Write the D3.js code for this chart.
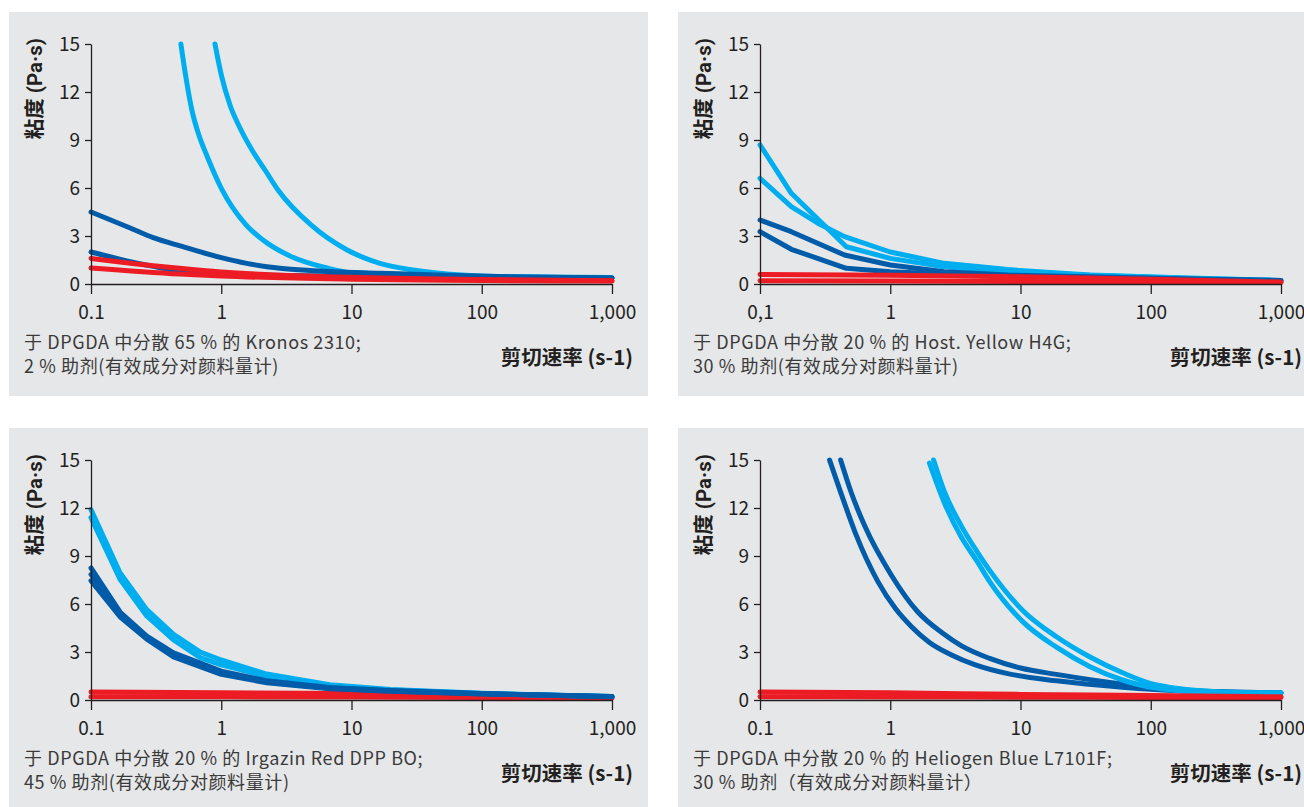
<!DOCTYPE html>
<html>
<head>
<meta charset="utf-8">
<script src="https://cdn.jsdelivr.net/npm/d3@7"></script>
<style>
  body { margin: 0; background: #fff; }
  text { font-family: "Noto Sans CJK SC", "Noto Sans", sans-serif; fill: #231f20; }
</style>
</head>
<body>
<svg id="chart" width="1304" height="807"></svg>
<script>
// axis ticks
const yTicks = [0, 3, 6, 9, 12, 15];
const xTicks = [0.1, 1, 10, 100, 1000];
const xLabelsDot = ['0.1', '1', '10', '100', '1,000'];
const xLabelsComma = ['0,1', '1', '10', '100', '1,000'];

// [shear rate (1/s), viscosity (Pa·s)]
// Kronos 2310
const kronosLight1 = [[0.49, 15], [0.536, 12.9], [0.594, 10.9], [0.674, 9.3], [0.773, 8.05], [1.013, 5.9], [1.549, 3.7], [2.092, 2.75], [3.37, 1.75], [6.49, 1.0], [9.7, 0.72], [20, 0.62], [100, 0.45], [1000, 0.38]];
const kronosLight2 = [[0.895, 15], [1.008, 12.96], [1.167, 11.19], [1.393, 9.75], [1.722, 8.375], [2.167, 7.125], [2.728, 5.875], [4.888, 3.69], [9.19, 2.14], [16.55, 1.29], [29.6, 0.875], [54, 0.625], [97, 0.5], [165, 0.46], [1000, 0.4]];
const kronosDark1 = [[0.1, 4.5], [0.2, 3.5], [0.3, 2.9], [0.5, 2.35], [1, 1.65], [1.57, 1.29], [2.82, 0.98], [5.1, 0.83], [16.6, 0.67], [54, 0.54], [165, 0.46], [1000, 0.38]];
const kronosDark2 = [[0.1, 2.0], [0.2, 1.4], [0.5, 0.8], [1, 0.62], [10, 0.48], [100, 0.42], [1000, 0.38]];
const kronosRed1 = [[0.1, 1.6], [0.2, 1.3], [0.48, 0.98], [1, 0.75], [10, 0.42], [100, 0.28], [1000, 0.2]];
const kronosRed2 = [[0.1, 1.0], [0.48, 0.62], [1, 0.5], [10, 0.3], [100, 0.22], [1000, 0.18]];

// Host. Yellow H4G
const yellowLight1 = [[0.1, 8.7], [0.174, 5.67], [0.46, 2.33], [1, 1.6], [2.6, 1.08], [8, 0.77], [34, 0.55], [200, 0.35], [1000, 0.22]];
const yellowLight2 = [[0.1, 6.6], [0.174, 4.83], [0.278, 3.8], [0.446, 2.96], [1, 2.0], [2.6, 1.29], [8, 0.9], [34, 0.56], [200, 0.37], [1000, 0.22]];
const yellowDark1 = [[0.1, 4.0], [0.174, 3.27], [0.446, 1.81], [1, 1.19], [2.6, 0.77], [8, 0.56], [34, 0.45], [200, 0.32], [1000, 0.22]];
const yellowDark2 = [[0.1, 3.27], [0.174, 2.17], [0.46, 0.98], [1, 0.77], [8, 0.46], [34, 0.4], [200, 0.3], [1000, 0.2]];
const yellowRed1 = [[0.1, 0.6], [1, 0.55], [10, 0.45], [100, 0.3], [1000, 0.12]];
const yellowRed2 = [[0.1, 0.2], [1, 0.18], [10, 0.15], [100, 0.12], [1000, 0.1]];

// Irgazin Red DPP BO
const redLight1 = [[0.1, 11.9], [0.167, 7.95], [0.268, 5.65], [0.43, 4.1], [0.69, 3.0], [1, 2.5], [2.23, 1.62], [6.8, 0.96], [20, 0.65], [100, 0.42], [1000, 0.22]];
const redLight2 = [[0.1, 11.4], [0.167, 7.55], [0.268, 5.25], [0.43, 3.75], [0.69, 2.65], [1, 2.2], [2.23, 1.48], [6.8, 0.9], [20, 0.62], [100, 0.4], [1000, 0.22]];
const redDark1 = [[0.1, 8.25], [0.167, 5.5], [0.268, 4.0], [0.43, 2.95], [1, 1.8], [2.23, 1.2], [6.8, 0.78], [20, 0.6], [100, 0.4], [1000, 0.22]];
const redDark2 = [[0.1, 7.85], [0.167, 5.35], [0.268, 3.9], [0.43, 2.82], [1, 1.7], [2.23, 1.14], [6.8, 0.74], [20, 0.57], [100, 0.39], [1000, 0.21]];
const redDark3 = [[0.1, 7.45], [0.167, 5.2], [0.268, 3.8], [0.43, 2.7], [1, 1.6], [2.23, 1.08], [6.8, 0.7], [20, 0.55], [100, 0.38], [1000, 0.2]];
const redRed1 = [[0.1, 0.5], [1, 0.45], [10, 0.4], [100, 0.3], [1000, 0.15]];
const redRed2 = [[0.1, 0.2], [1, 0.2], [10, 0.18], [100, 0.15], [1000, 0.12]];

// Heliogen Blue L7101F
const blueDark1 = [[0.342, 15], [0.45, 12.2], [0.548, 10.3], [0.804, 7.4], [1.1, 5.7], [1.45, 4.6], [2.0, 3.6], [2.9, 2.85], [4.5, 2.2], [8, 1.65], [18.9, 1.2], [60.8, 0.8], [200, 0.55], [1000, 0.42]];
const blueDark2 = [[0.416, 15], [0.5, 13], [0.635, 10.9], [1.02, 7.8], [1.63, 5.5], [2.5, 4.2], [3.5, 3.4], [5.8, 2.6], [10, 2.0], [18.9, 1.6], [60.8, 1.0], [200, 0.6], [1000, 0.45]];
const blueLight1 = [[2.15, 15], [2.61, 13.0], [3.5, 10.9], [4.7, 9.2], [5.8, 8.1], [10.4, 5.6], [18.9, 3.95], [33.9, 2.7], [60.8, 1.7], [109, 0.95], [355, 0.5], [1000, 0.45]];
const blueLight2 = [[2.0, 14.8], [2.61, 12.3], [3.5, 10.2], [4.7, 8.6], [5.8, 7.4], [10.4, 4.9], [18.9, 3.3], [33.9, 2.1], [60.8, 1.25], [109, 0.75], [355, 0.45], [1000, 0.42]];
const blueRed1 = [[0.1, 0.5], [1, 0.45], [10, 0.35], [100, 0.28], [1000, 0.2]];
const blueRed2 = [[0.1, 0.2], [1, 0.19], [10, 0.17], [100, 0.16], [1000, 0.15]];

const captions1 = ['于 DPGDA 中分散 65 % 的 Kronos 2310;', '2 % 助剂(有效成分对颜料量计)'];
const captions2 = ['于 DPGDA 中分散 20 % 的 Host. Yellow H4G;', '30 % 助剂(有效成分对颜料量计)'];
const captions3 = ['于 DPGDA 中分散 20 % 的 Irgazin Red DPP BO;', '45 % 助剂(有效成分对颜料量计)'];
const captions4 = ['于 DPGDA 中分散 20 % 的 Heliogen Blue L7101F;', '30 % 助剂（有效成分对颜料量计）'];

const lightBlue = '#00aeef', darkBlue = '#005ca9', red = '#ed1c24';

const panels = [
    {x: 9, y: 12, labels: xLabelsDot, caption: captions1, curve: d3.curveMonotoneX,
        series: [[kronosLight1, lightBlue], [kronosLight2, lightBlue], [kronosDark1, darkBlue], [kronosDark2, darkBlue], [kronosRed1, red], [kronosRed2, red]]},
    {x: 678, y: 12, labels: xLabelsComma, caption: captions2, curve: d3.curveLinear,
        series: [[yellowLight2, lightBlue], [yellowLight1, lightBlue], [yellowDark1, darkBlue], [yellowDark2, darkBlue], [yellowRed1, red], [yellowRed2, red]]},
    {x: 9, y: 428, labels: xLabelsDot, caption: captions3, curve: d3.curveLinear,
        series: [[redRed1, red], [redRed2, red], [redLight1, lightBlue], [redLight2, lightBlue], [redDark1, darkBlue], [redDark2, darkBlue], [redDark3, darkBlue]]},
    {x: 678, y: 428, labels: xLabelsDot, caption: captions4, curve: d3.curveMonotoneX,
        series: [[blueDark1, darkBlue], [blueDark2, darkBlue], [blueLight1, lightBlue], [blueLight2, lightBlue], [blueRed1, red], [blueRed2, red]]}
];

const margin = {left: 82, top: 32}, width = 521, height = 240;
const svg = d3.select('#chart');

panels.forEach(p => {
    const g = svg.append('g').attr('transform', `translate(${p.x},${p.y})`);
    g.append('rect')
        .attr('width', p.x > 600 ? 1304 - p.x : 639)
        .attr('height', 384)
        .attr('fill', '#e6e7e8');

    const plot = g.append('g').attr('transform', `translate(${margin.left},${margin.top})`);

    const xScale = d3.scaleLog().domain([0.1, 1000]).range([0, width]);
    const yScale = d3.scaleLinear().domain([0, 15]).range([height, 0]);

    const line = d3.line()
        .x(d => xScale(d[0]))
        .y(d => yScale(d[1]))
        .curve(p.curve);

    plot.selectAll('.curve')
        .data(p.series)
        .enter()
        .append('path')
        .attr('class', 'curve')
        .attr('d', d => line(d[0]))
        .attr('fill', 'none')
        .attr('stroke', d => d[1])
        .attr('stroke-width', 5)
        .attr('stroke-linecap', 'round')
        .attr('stroke-linejoin', 'round');

    const yAxis = plot.append('g')
        .call(d3.axisLeft(yScale).tickValues(yTicks).tickSize(6).tickSizeOuter(0).tickPadding(5));
    const xAxis = plot.append('g')
        .attr('transform', `translate(0,${height})`)
        .call(d3.axisBottom(xScale).tickValues(xTicks).tickSize(10).tickSizeOuter(0).tickPadding(12)
            .tickFormat((d, i) => p.labels[i]));

    [yAxis, xAxis].forEach(a => {
        a.selectAll('path, line').attr('stroke', '#231f20').attr('stroke-width', 1.3);
        a.selectAll('text')
            .attr('fill', '#231f20')
            .style('font-size', '19px')
            .style('font-family', '"Noto Sans CJK SC", "Noto Sans", sans-serif');
    });

    plot.append('text')
        .attr('transform', 'rotate(-90)')
        .attr('x', 6)
        .attr('y', -49)
        .attr('text-anchor', 'end')
        .style('font-family', 'Roboto, "Noto Sans CJK SC", sans-serif')
        .style('font-size', '20.5px')
        .style('font-weight', 'bold')
        .text('粘度 (Pa·s)');

    plot.append('text')
        .attr('x', width + 21)
        .attr('y', height + 81)
        .attr('text-anchor', 'end')
        .style('font-size', '20.5px')
        .style('font-weight', 'bold')
        .text('剪切速率 (s-1)');

    plot.selectAll('.caption')
        .data(p.caption)
        .enter()
        .append('text')
        .attr('class', 'caption')
        .attr('x', -67)
        .attr('y', (d, i) => height + 65 + i * 24)
        .style('font-size', '18px')
        .style('letter-spacing', '0.6px')
        .style('fill', '#3a3a3a')
        .text(d => d);
});
</script>
</body>
</html>
